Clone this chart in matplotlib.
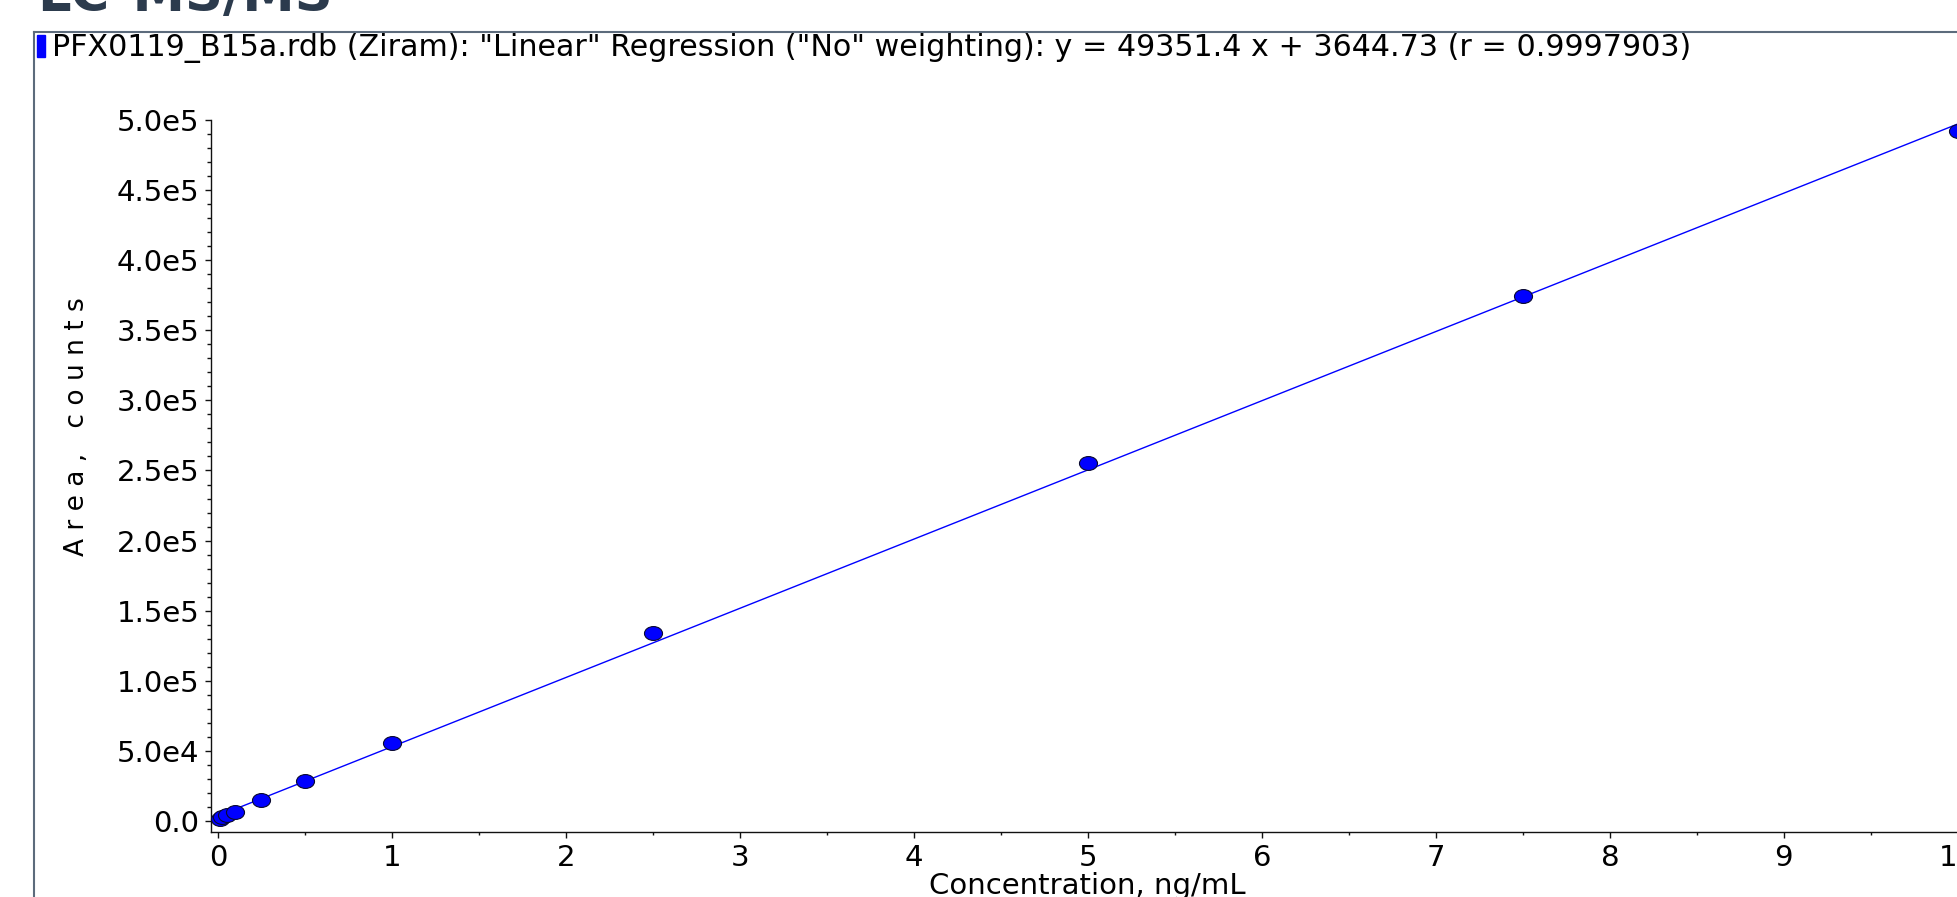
import matplotlib
matplotlib.use("Agg")
import matplotlib.pyplot as plt
import numpy as np
from matplotlib.lines import Line2D
from matplotlib.patches import Rectangle
from matplotlib.path import Path
from matplotlib.transforms import Affine2D
from matplotlib.ticker import FuncFormatter, MultipleLocator

# calibration standards (ng/mL) and measured peak areas (counts)
conc = [0.01, 0.025, 0.05, 0.1, 0.25, 0.5, 1.0, 2.5, 5.0, 7.5, 10.0]
area = [1200, 2600, 4300, 6500, 15000, 28300, 55500, 134000, 255500, 374500, 492000]

# regression reported by the software
slope = 49351.4
intercept = 3644.73
r_value = 0.9997903

title = "LC-MS/MS"
legend_text = ('PFX0119_B15a.rdb (Ziram): "Linear" Regression ("No" weighting): '
               'y = 49351.4 x + 3644.73 (r = 0.9997903)')
x_label = "Concentration, ng/mL"
y_label = "A r e a ,   c o u n t s"

W, H = 1957, 897
fig = plt.figure(figsize=(W / 100, H / 100), dpi=100)
fig.patch.set_facecolor("white")


def fx(px):
    return px / W


def fy(py):
    return 1 - py / H


# slide title, mostly cut off at the top
fig.text(fx(37), fy(11), title, fontsize=38, fontweight="bold",
         color="#2c3b4d", ha="left", va="baseline")

# panel frame
frame_col = "#5c6b7c"
fig.add_artist(Line2D([fx(34), fx(34)], [fy(32), 0], color=frame_col, lw=1.5))
fig.add_artist(Line2D([fx(34), 1], [fy(32), fy(32)], color=frame_col, lw=1.5))

# legend entry
fig.add_artist(Rectangle((fx(37), fy(57)), fx(8), 22 / H, color="#0000ff",
                         transform=fig.transFigure))
fig.text(fx(52), fy(56), legend_text, fontsize=21.7, color="black",
         ha="left", va="baseline")

ax = fig.add_axes([fx(211), fy(832), (1963 - 211) / W, (832 - 120) / H])
ax.set_xlim(-0.04, 10.03)
ax.set_ylim(-7857, 5.0e5)

xs = np.array([min(conc), max(conc)])
ax.plot(xs, slope * xs + intercept, color="#0000ff", lw=1.0, zorder=2)

ellipse = Path.unit_circle().transformed(Affine2D().scale(1.3, 1.0))
ax.plot(conc, area, linestyle="none", marker=ellipse, markersize=13,
        markerfacecolor="#0000ff", markeredgecolor="#0a0a30",
        markeredgewidth=0.8, zorder=3, clip_on=False)

for side in ("top", "right"):
    ax.spines[side].set_visible(False)
for side in ("left", "bottom"):
    ax.spines[side].set_color("#111111")
    ax.spines[side].set_linewidth(1.0)


def sci(v, pos):
    if v == 0:
        return "0.0"
    e = int(np.floor(np.log10(abs(v))))
    return f"{v / 10 ** e:.1f}e{e}"


ax.yaxis.set_major_locator(MultipleLocator(5e4))
ax.yaxis.set_minor_locator(MultipleLocator(1e4))
ax.yaxis.set_major_formatter(FuncFormatter(sci))
ax.xaxis.set_major_locator(MultipleLocator(1))
ax.xaxis.set_minor_locator(MultipleLocator(0.5))
ax.xaxis.set_major_formatter(FuncFormatter(lambda v, p: f"{v:g}"))

ax.tick_params(axis="both", which="major", labelsize=21, length=4.3,
               width=1.0, color="#111111", labelcolor="black", pad=4)
ax.tick_params(axis="y", which="minor", length=2.9, width=1.0, color="#111111")
ax.tick_params(axis="x", which="minor", length=2.2, width=1.0, color="#111111")

ax.set_xlabel(x_label, fontsize=21, labelpad=0)
ax.set_ylabel(y_label, fontsize=19)
ax.yaxis.set_label_coords(-0.069, 0.569)

fig.savefig("out.png", dpi=100)
